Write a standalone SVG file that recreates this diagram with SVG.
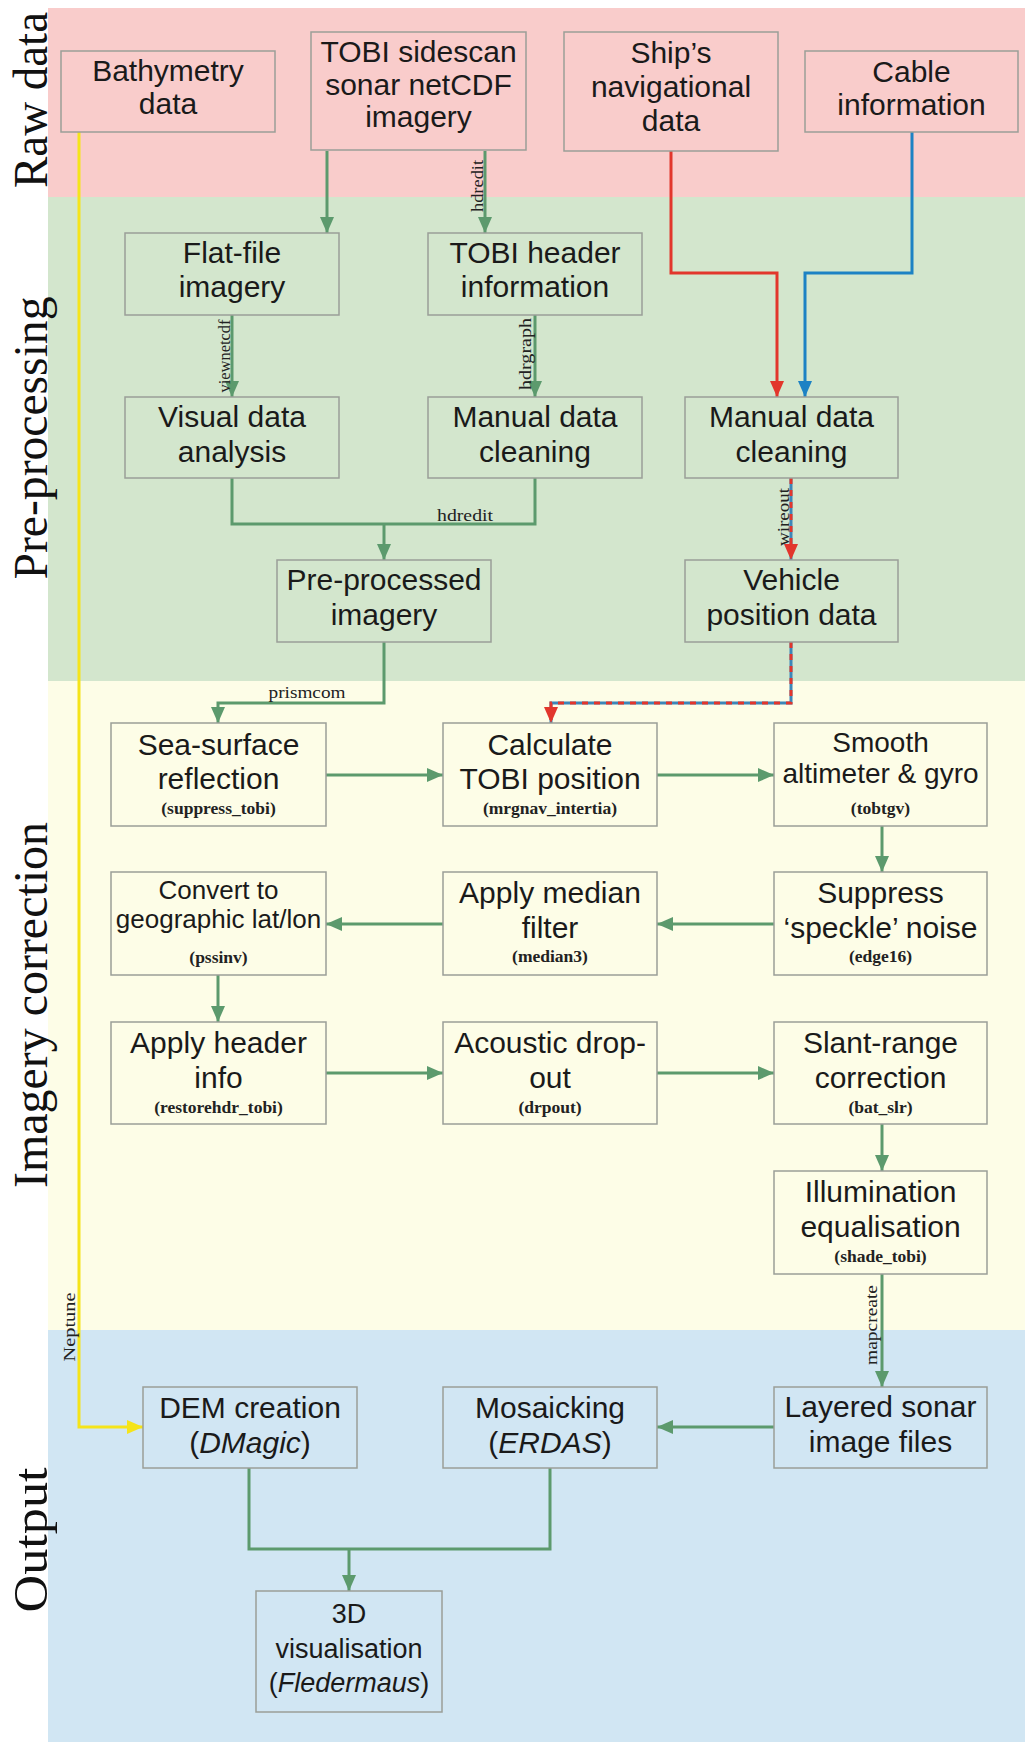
<svg xmlns="http://www.w3.org/2000/svg" width="1025" height="1742" viewBox="0 0 1025 1742">
<style>
.box{fill:none;stroke:#9a9e98;stroke-width:1.5}
.t{font-family:"Liberation Sans",Arial,sans-serif;font-size:30px;fill:#1a1a1a;text-anchor:middle}
.t26{font-size:26px}
.t28{font-size:28px}
.t27{font-size:27px}
.f{font-family:"Liberation Serif","Times New Roman",serif;font-size:17.5px;font-weight:bold;fill:#222;text-anchor:middle}
.lab{font-family:"Liberation Serif","Times New Roman",serif;font-size:17px;fill:#222;text-anchor:middle}
.side{font-family:"Liberation Serif","Times New Roman",serif;font-size:48px;fill:#111;text-anchor:middle}
.g{fill:none;stroke:#5c9a6d;stroke-width:3}
.ga{fill:none;stroke:#5c9a6d;stroke-width:3;marker-end:url(#ag)}
</style>
<defs>
<marker id="ag" viewBox="0 0 16 14" refX="16" refY="7" markerWidth="16" markerHeight="14" markerUnits="userSpaceOnUse" orient="auto"><path d="M0,0 L16,7 L0,14 z" fill="#5c9a6d"/></marker>
<marker id="ar" viewBox="0 0 16 14" refX="16" refY="7" markerWidth="16" markerHeight="14" markerUnits="userSpaceOnUse" orient="auto"><path d="M0,0 L16,7 L0,14 z" fill="#e2362c"/></marker>
<marker id="ab" viewBox="0 0 16 14" refX="16" refY="7" markerWidth="16" markerHeight="14" markerUnits="userSpaceOnUse" orient="auto"><path d="M0,0 L16,7 L0,14 z" fill="#1c82c4"/></marker>
<marker id="ay" viewBox="0 0 16 14" refX="16" refY="7" markerWidth="16" markerHeight="14" markerUnits="userSpaceOnUse" orient="auto"><path d="M0,0 L16,7 L0,14 z" fill="#f5e41a"/></marker>
</defs>
<rect x="0" y="0" width="1025" height="1742" fill="#ffffff"/>
<g id="bands">
<rect x="48" y="8" width="977" height="189" fill="#f9cccb"/>
<rect x="48" y="197" width="977" height="484" fill="#d3e6cd"/>
<rect x="48" y="681" width="977" height="649" fill="#fdfde7"/>
<rect x="48" y="1330" width="977" height="412" fill="#d1e6f3"/>
</g>
<g id="side-labels">
<text class="side" transform="translate(47,100) rotate(-90)" textLength="176" lengthAdjust="spacingAndGlyphs">Raw data</text>
<text class="side" transform="translate(47,438) rotate(-90)" textLength="283" lengthAdjust="spacingAndGlyphs">Pre-processing</text>
<text class="side" transform="translate(47,1005) rotate(-90)" textLength="366" lengthAdjust="spacingAndGlyphs">Imagery correction</text>
<text class="side" transform="translate(47,1540) rotate(-90)" textLength="145" lengthAdjust="spacingAndGlyphs">Output</text>
</g>
<g id="connectors">
<path d="M79,132 V1427 H143" fill="none" stroke="#f5e41a" stroke-width="3" marker-end="url(#ay)"/>
<text class="lab" transform="translate(75,1327) rotate(-90)" textLength="69" lengthAdjust="spacingAndGlyphs">Neptune</text>
<path class="ga" d="M327,151 V233"/>
<path class="ga" d="M485,151 V233"/>
<text class="lab" transform="translate(483,186) rotate(-90)" textLength="52" lengthAdjust="spacingAndGlyphs">hdredit</text>
<path class="ga" d="M232,315 V397"/>
<text class="lab" transform="translate(230,356) rotate(-90)" textLength="73" lengthAdjust="spacingAndGlyphs">viewnetcdf</text>
<path class="ga" d="M535,315 V397"/>
<text class="lab" transform="translate(531,354) rotate(-90)" textLength="72" lengthAdjust="spacingAndGlyphs">hdrgraph</text>
<path class="g" d="M232,478 V524 H535 V478"/>
<path class="ga" d="M384,524 V560"/>
<text class="lab" x="465" y="521" textLength="56" lengthAdjust="spacingAndGlyphs">hdredit</text>
<path d="M671,151 V273 H777 V397" fill="none" stroke="#e2362c" stroke-width="3" marker-end="url(#ar)"/>
<path d="M912,132 V273 H805 V397" fill="none" stroke="#1c82c4" stroke-width="3" marker-end="url(#ab)"/>
<path d="M791,478 V560" fill="none" stroke="#3d86b8" stroke-width="3"/>
<path d="M791,478 V560" fill="none" stroke="#e2362c" stroke-width="3" stroke-dasharray="6 6" marker-end="url(#ar)"/>
<text class="lab" transform="translate(789,517) rotate(-90)" textLength="58" lengthAdjust="spacingAndGlyphs">wireout</text>
<path d="M791,642 V703 H551 V723" fill="none" stroke="#3d86b8" stroke-width="3"/>
<path d="M791,642 V703 H551 V723" fill="none" stroke="#e2362c" stroke-width="3" stroke-dasharray="6 6" marker-end="url(#ar)"/>
<path class="ga" d="M384,642 V703 H218 V723"/>
<text class="lab" x="307" y="698" textLength="77" lengthAdjust="spacingAndGlyphs">prismcom</text>
<path class="ga" d="M326,775 H443"/>
<path class="ga" d="M657,775 H774"/>
<path class="ga" d="M882,826 V872"/>
<path class="ga" d="M774,924 H657"/>
<path class="ga" d="M443,924 H326"/>
<path class="ga" d="M218,975 V1022"/>
<path class="ga" d="M326,1073 H443"/>
<path class="ga" d="M657,1073 H774"/>
<path class="ga" d="M882,1124 V1171"/>
<path class="ga" d="M882,1274 V1387"/>
<text class="lab" transform="translate(877,1325) rotate(-90)" textLength="80" lengthAdjust="spacingAndGlyphs">mapcreate</text>
<path class="ga" d="M774,1427 H657"/>
<path class="g" d="M249,1468 V1549 H550 V1468"/>
<path class="ga" d="M349,1549 V1591"/>
</g>
<g id="n-bathymetry"><rect class="box" x="61" y="51" width="214" height="81"/><text class="t" x="168" y="81">Bathymetry</text><text class="t" x="168" y="114">data</text></g>
<g id="n-tobi-sidescan"><rect class="box" x="311" y="32" width="215" height="118"/><text class="t" x="418.5" y="62">TOBI sidescan</text><text class="t" x="418.5" y="95">sonar netCDF</text><text class="t" x="418.5" y="127">imagery</text></g>
<g id="n-ships-nav"><rect class="box" x="564" y="32" width="214" height="119"/><text class="t" x="671" y="63">Ship’s</text><text class="t" x="671" y="97">navigational</text><text class="t" x="671" y="131">data</text></g>
<g id="n-cable"><rect class="box" x="805" y="51" width="213" height="81"/><text class="t" x="911.5" y="82">Cable</text><text class="t" x="911.5" y="115">information</text></g>
<g id="n-flat-file"><rect class="box" x="125" y="233" width="214" height="82"/><text class="t" x="232" y="263">Flat-file</text><text class="t" x="232" y="297">imagery</text></g>
<g id="n-tobi-header"><rect class="box" x="428" y="233" width="214" height="82"/><text class="t" x="535" y="263">TOBI header</text><text class="t" x="535" y="297">information</text></g>
<g id="n-visual"><rect class="box" x="125" y="397" width="214" height="81"/><text class="t" x="232" y="427">Visual data</text><text class="t" x="232" y="462">analysis</text></g>
<g id="n-manual-left"><rect class="box" x="428" y="397" width="214" height="81"/><text class="t" x="535" y="427">Manual data</text><text class="t" x="535" y="462">cleaning</text></g>
<g id="n-manual-right"><rect class="box" x="685" y="397" width="213" height="81"/><text class="t" x="791.5" y="427">Manual data</text><text class="t" x="791.5" y="462">cleaning</text></g>
<g id="n-preprocessed"><rect class="box" x="277" y="560" width="214" height="82"/><text class="t" x="384" y="590">Pre-processed</text><text class="t" x="384" y="625">imagery</text></g>
<g id="n-vehicle"><rect class="box" x="685" y="560" width="213" height="82"/><text class="t" x="791.5" y="590">Vehicle</text><text class="t" x="791.5" y="625">position data</text></g>
<g id="n-sea-surface"><rect class="box" x="111" y="723" width="215" height="103"/><text class="t" x="218.5" y="755">Sea-surface</text><text class="t" x="218.5" y="789">reflection</text><text class="f" x="218.5" y="814">(suppress_tobi)</text></g>
<g id="n-calculate"><rect class="box" x="443" y="723" width="214" height="103"/><text class="t" x="550" y="755">Calculate</text><text class="t" x="550" y="789">TOBI position</text><text class="f" x="550" y="814">(mrgnav_intertia)</text></g>
<g id="n-smooth"><rect class="box" x="774" y="723" width="213" height="103"/><text class="t t28" x="880.5" y="752">Smooth</text><text class="t t28" x="880.5" y="783">altimeter &amp; gyro</text><text class="f" x="880.5" y="814">(tobtgv)</text></g>
<g id="n-convert"><rect class="box" x="111" y="872" width="215" height="103"/><text class="t t26" x="218.5" y="899">Convert to</text><text class="t t26" x="218.5" y="928">geographic lat/lon</text><text class="f" x="218.5" y="963">(pssinv)</text></g>
<g id="n-median"><rect class="box" x="443" y="872" width="214" height="103"/><text class="t" x="550" y="903">Apply median</text><text class="t" x="550" y="938">filter</text><text class="f" x="550" y="962">(median3)</text></g>
<g id="n-suppress"><rect class="box" x="774" y="872" width="213" height="103"/><text class="t" x="880.5" y="903">Suppress</text><text class="t" x="880.5" y="938">‘speckle’ noise</text><text class="f" x="880.5" y="962">(edge16)</text></g>
<g id="n-apply-header"><rect class="box" x="111" y="1022" width="215" height="102"/><text class="t" x="218.5" y="1053">Apply header</text><text class="t" x="218.5" y="1088">info</text><text class="f" x="218.5" y="1113">(restorehdr_tobi)</text></g>
<g id="n-acoustic"><rect class="box" x="443" y="1022" width="214" height="102"/><text class="t" x="550" y="1053">Acoustic drop-</text><text class="t" x="550" y="1088">out</text><text class="f" x="550" y="1113">(drpout)</text></g>
<g id="n-slant"><rect class="box" x="774" y="1022" width="213" height="102"/><text class="t" x="880.5" y="1053">Slant-range</text><text class="t" x="880.5" y="1088">correction</text><text class="f" x="880.5" y="1113">(bat_slr)</text></g>
<g id="n-illumination"><rect class="box" x="774" y="1171" width="213" height="103"/><text class="t" x="880.5" y="1202">Illumination</text><text class="t" x="880.5" y="1237">equalisation</text><text class="f" x="880.5" y="1262">(shade_tobi)</text></g>
<g id="n-dem"><rect class="box" x="143" y="1387" width="214" height="81"/><text class="t" x="250" y="1418">DEM creation</text><text class="t" x="250" y="1453">(<tspan font-style="italic">DMagic</tspan>)</text></g>
<g id="n-mosaicking"><rect class="box" x="443" y="1387" width="214" height="81"/><text class="t" x="550" y="1418">Mosaicking</text><text class="t" x="550" y="1453">(<tspan font-style="italic">ERDAS</tspan>)</text></g>
<g id="n-layered"><rect class="box" x="774" y="1387" width="213" height="81"/><text class="t" x="880.5" y="1417">Layered sonar</text><text class="t" x="880.5" y="1452">image files</text></g>
<g id="n-3d"><rect class="box" x="256" y="1591" width="186" height="121"/><text class="t t27" x="349" y="1623">3D</text><text class="t t27" x="349" y="1658">visualisation</text><text class="t t27" x="349" y="1692">(<tspan font-style="italic">Fledermaus</tspan>)</text></g>
</svg>
